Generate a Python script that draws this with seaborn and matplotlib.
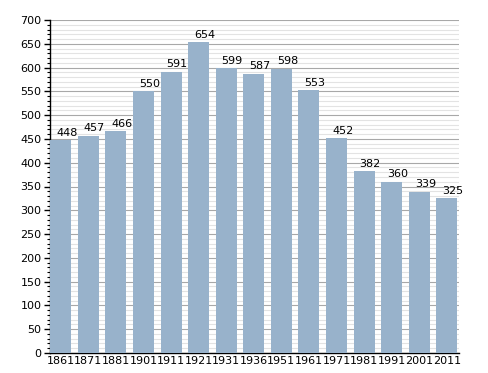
import matplotlib
matplotlib.use("Agg")
import matplotlib.pyplot as plt
import seaborn as sns
import pandas as pd
from matplotlib.ticker import MultipleLocator

years = ["1861", "1871", "1881", "1901", "1911", "1921", "1931", "1936",
         "1951", "1961", "1971", "1981", "1991", "2001", "2011"]
population = [448, 457, 466, 550, 591, 654, 599, 587, 598, 553, 452, 382, 360, 339, 325]

df = pd.DataFrame({"year": years, "pop": population})

sns.set_style("white")
plt.rcParams['font.family'] = ['DejaVu Sans']
plt.rcParams['text.color'] = 'black'
plt.rcParams['xtick.color'] = 'black'
plt.rcParams['ytick.color'] = 'black'

fig = plt.figure(figsize=(4.88, 3.73), dpi=100)
ax = fig.add_axes([50/488, 20/373, 409/488, 333/373])

sns.barplot(data=df, x="year", y="pop", color="#98B2CB", saturation=1,
            width=0.76, ax=ax, zorder=3, linewidth=0, edgecolor="none")

ax.set_ylim(0, 700)
ax.set_xlim(-0.39, 14.44)
ax.yaxis.set_major_locator(MultipleLocator(50))
ax.yaxis.set_minor_locator(MultipleLocator(10))
ax.grid(axis="y", which="minor", color="#E3E3E3", linewidth=0.8, zorder=0)
ax.grid(axis="y", which="major", color="#A8A8A8", linewidth=0.8, zorder=1)
ax.grid(axis="x", visible=False)
ax.set_axisbelow(True)

for s in ["top", "right"]:
    ax.spines[s].set_visible(False)
ax.spines["left"].set_color("black")
ax.spines["bottom"].set_color("black")
ax.spines["left"].set_linewidth(1)
ax.spines["bottom"].set_linewidth(1)

ax.tick_params(axis="y", which="major", length=4, width=1, labelsize=8, left=True, pad=2,
               colors="black")
ax.tick_params(axis="y", which="minor", length=2, width=0.8, left=True, colors="black")
ax.tick_params(axis="x", length=0, labelsize=8, pad=2, colors="black")
ax.set_xlabel("")
ax.set_ylabel("")

for i, v in enumerate(population):
    ax.text(i + 0.22, v + 5, str(v), ha="center", va="bottom", fontsize=8, zorder=5,
            color="black")

fig.savefig("out.png", dpi=100)
